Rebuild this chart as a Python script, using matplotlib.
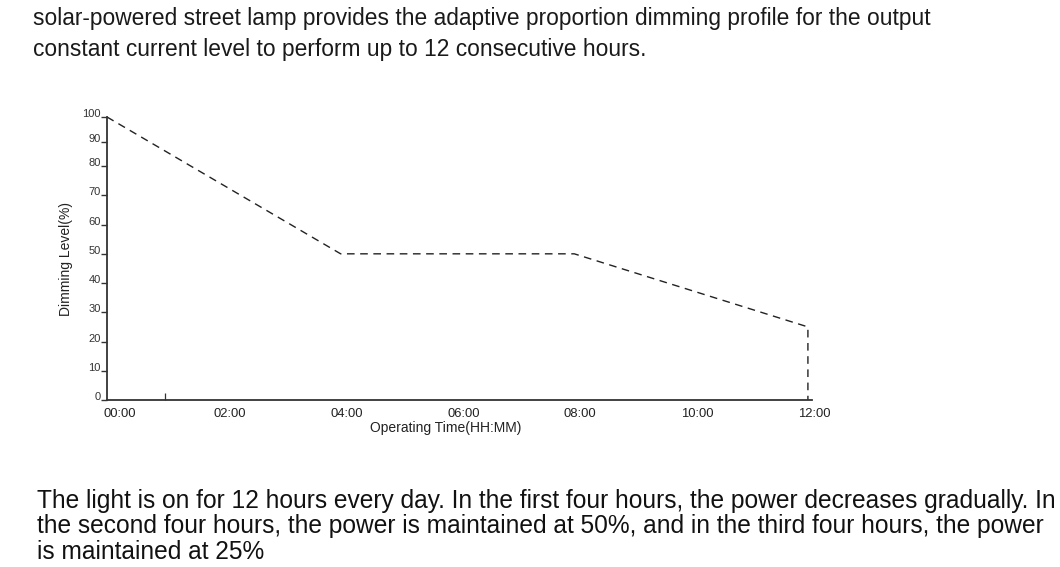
import matplotlib
matplotlib.use("Agg")
import matplotlib.pyplot as plt
import matplotlib.transforms as mtransforms
import numpy as np

# dimming profile (hours, percent)
hours = [0, 4, 8, 12, 12]
level = [100, 50, 50, 25, 0]
xtick_hours = [0, 2, 4, 6, 8, 10, 12]
xtick_labels = ["00:00", "02:00", "04:00", "06:00", "08:00", "10:00", "12:00"]
ytick_vals = [0, 10, 20, 30, 40, 50, 60, 70, 80, 90, 100]

top_lines = ["solar-powered street lamp provides the adaptive proportion dimming profile for the output",
             "constant current level to perform up to 12 consecutive hours."]
bottom_lines = ["The light is on for 12 hours every day. In the first four hours, the power decreases gradually. In",
                "the second four hours, the power is maintained at 50%, and in the third four hours, the power",
                "is maintained at 25%"]

FONT = ["Liberation Sans", "DejaVu Sans"]

# the original axis is squeezed above 80 %
def fwd(v):
    v = np.asarray(v, dtype=float)
    return np.where(v <= 80, v, 80 + (v - 80) * 0.84)

def inv(v):
    v = np.asarray(v, dtype=float)
    return np.where(v <= 80, v, 80 + (v - 80) / 0.84)

W, H = 1060, 567
fig = plt.figure(figsize=(W / 100, H / 100), dpi=100)
fig.patch.set_facecolor("white")
ax = fig.add_axes([107 / W, 1 - 400 / H, 705 / W, 283 / H])

ax.plot(hours, level, color="#222222", lw=1.0, linestyle=(0, (5.5, 4)), clip_on=False)

ax.set_yscale("function", functions=(fwd, inv))
ax.set_xlim(0, 12.07)
ax.set_ylim(0, 100)

for s in ["top", "right"]:
    ax.spines[s].set_visible(False)
for s in ["left", "bottom"]:
    ax.spines[s].set_color("#333333")
    ax.spines[s].set_linewidth(1.3)

ax.set_yticks(ytick_vals)
ax.set_yticklabels([str(v) for v in ytick_vals], fontsize=8, color="#333333", family=FONT)
ax.tick_params(axis="y", length=4, width=1.0, color="#333333", pad=0.5)
for lbl in ax.get_yticklabels():
    lbl.set_verticalalignment("baseline")

ax.set_xticks(xtick_hours)
ax.set_xticklabels(xtick_labels, fontsize=9.4, color="#222222", family=FONT)
ax.tick_params(axis="x", length=0, pad=6)
for i, lbl in enumerate(ax.get_xticklabels()):
    dx = 13 if i == 0 else 6
    lbl.set_transform(lbl.get_transform() + mtransforms.ScaledTranslation(dx / 100, 0, fig.dpi_scale_trans))
ax.set_xticks([1], minor=True)
ax.tick_params(axis="x", which="minor", direction="in", length=5, width=0.9, color="#333333")

ax.set_xlabel("Operating Time(HH:MM)", fontsize=10, color="#222222", family=FONT)
ax.xaxis.set_label_coords((446 - 107) / 705, (400 - 421) / 283)
ax.set_ylabel("Dimming Level(%)", fontsize=10, color="#222222", family=FONT)
ax.yaxis.set_label_coords((73 - 107) / 705, 0.5)

for txt, base in zip(top_lines, [25, 56]):
    fig.text(33 / W, 1 - base / H, txt, ha="left", va="baseline", fontsize=16.4,
             color="#1a1a1a", family=FONT)
for txt, base in zip(bottom_lines, [508, 533.5, 559]):
    fig.text(37 / W, 1 - base / H, txt, ha="left", va="baseline", fontsize=17.65,
             color="#111111", family=FONT)

fig.savefig("out.png", dpi=100, facecolor="white")
